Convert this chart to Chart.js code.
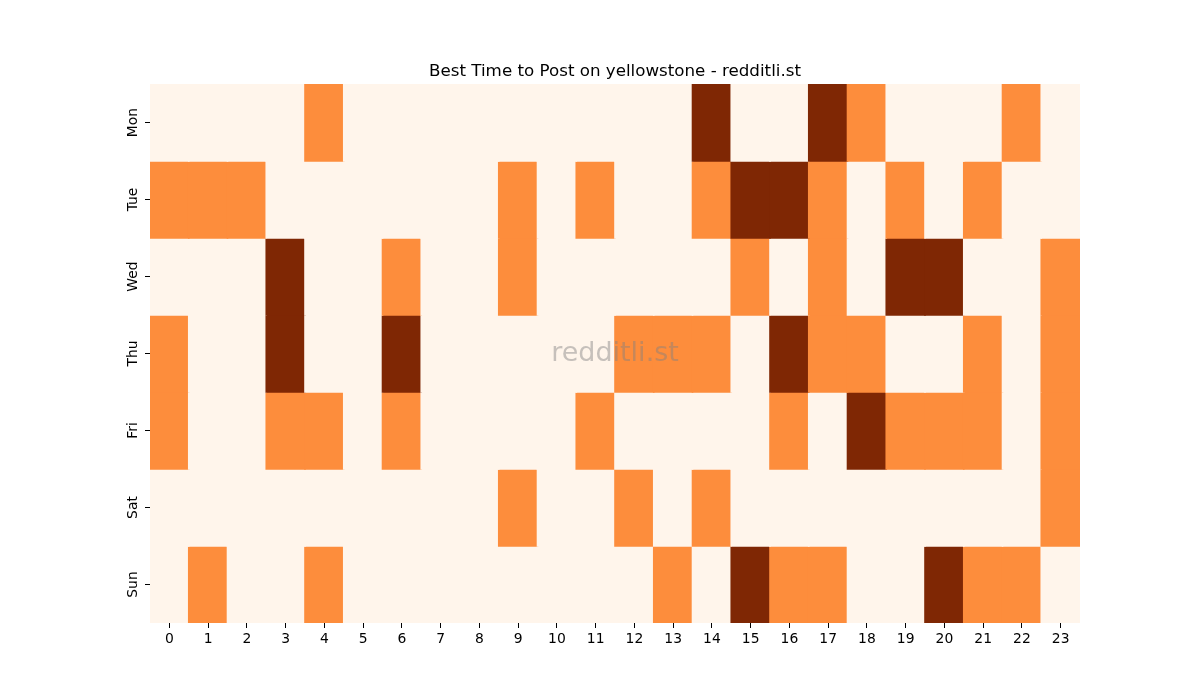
<!DOCTYPE html>
<html>
<head>
<meta charset="utf-8">
<script src="https://cdn.jsdelivr.net/npm/chart.js@4.4.1/dist/chart.umd.min.js"></script>
<style>
  html, body { margin: 0; padding: 0; background: #fff; }
  canvas { display: block; }
</style>
</head>
<body>
<canvas id="heat" width="1200" height="700"></canvas>
<script>
// hours along the x axis, days down the y axis
const hours = ["0","1","2","3","4","5","6","7","8","9","10","11","12","13","14","15","16","17","18","19","20","21","22","23"];
const days = ["Mon", "Tue", "Wed", "Thu", "Fri", "Sat", "Sun"];

// activity level per hour: 0 = low, 1 = mid, 2 = best
const mon = [0,0,0,0,1,0,0,0,0,0,0,0,0,0,2,0,0,2,1,0,0,0,1,0];
const tue = [1,1,1,0,0,0,0,0,0,1,0,1,0,0,1,2,2,1,0,1,0,1,0,0];
const wed = [0,0,0,2,0,0,1,0,0,1,0,0,0,0,0,1,0,1,0,2,2,0,0,1];
const thu = [1,0,0,2,0,0,2,0,0,0,0,0,1,1,1,0,2,1,1,0,0,1,0,1];
const fri = [1,0,0,1,1,0,1,0,0,0,0,1,0,0,0,0,1,0,2,1,1,1,0,1];
const sat = [0,0,0,0,0,0,0,0,0,1,0,0,1,0,1,0,0,0,0,0,0,0,0,1];
const sun = [0,1,0,0,1,0,0,0,0,0,0,0,0,1,0,2,1,1,0,0,2,1,1,0];
const rows = [mon, tue, wed, thu, fri, sat, sun];

const levelColors = ["#fff5eb", "#fd8d3c", "#7f2704"];
const titleText = "Best Time to Post on yellowstone - redditli.st";

// each day is a row of floating bars spanning [r, r+1]
const datasets = rows.map((row, r) => ({
  label: days[r],
  data: row.map(() => [r, r + 1]),
  backgroundColor: row.map(v => levelColors[v]),
  borderWidth: 0,
  inflateAmount: 0.8,
  grouped: false,
  barPercentage: 1,
  categoryPercentage: 1
}));

// title centred over the plot area, rotated day labels, watermark
const decorations = {
  id: "decorations",
  afterDatasetsDraw(chart) {
    const { ctx, chartArea } = chart;
    const cx = (chartArea.left + chartArea.right) / 2;
    ctx.save();
    ctx.font = "27px 'DejaVu Sans'";
    ctx.fillStyle = "rgba(128,128,128,0.45)";
    ctx.textAlign = "center";
    ctx.textBaseline = "middle";
    ctx.fillText("redditli.st", cx, (chartArea.top + chartArea.bottom) / 2);
    ctx.restore();
  },
  afterDraw(chart) {
    const { ctx, chartArea, scales } = chart;
    const cx = (chartArea.left + chartArea.right) / 2;
    ctx.save();
    ctx.fillStyle = "#000";
    ctx.font = "16.7px 'DejaVu Sans'";
    ctx.textAlign = "center";
    ctx.textBaseline = "alphabetic";
    ctx.fillText(titleText, cx, chartArea.top - 8);

    ctx.font = "13.9px 'DejaVu Sans'";
    ctx.textBaseline = "bottom";
    days.forEach((d, i) => {
      const y = scales.y.getPixelForValue(i + 0.5);
      ctx.save();
      ctx.translate(chartArea.left - 12, y);
      ctx.rotate(-Math.PI / 2);
      ctx.fillText(d, 0, 2);
      ctx.restore();
    });
    ctx.restore();
  }
};

const tickFont = { family: "'DejaVu Sans'", size: 13.9 };

new Chart(document.getElementById("heat").getContext("2d"), {
  type: "bar",
  data: { labels: hours, datasets },
  plugins: [decorations],
  options: {
    responsive: false,
    animation: false,
    layout: { padding: { left: 110, right: 120, top: 84, bottom: 37 } },
    plugins: {
      legend: { display: false },
      tooltip: { enabled: false },
      title: { display: false }
    },
    scales: {
      x: {
        type: "category",
        offset: true,
        border: { display: false },
        grid: { display: true, offset: false, drawOnChartArea: false, drawTicks: true, tickLength: 5, color: "#000", lineWidth: 1 },
        ticks: { color: "#000", font: tickFont, padding: 3, maxRotation: 0, autoSkip: false },
        afterFit(s) { s.height = 40; }
      },
      y: {
        type: "linear",
        min: 0,
        max: 7,
        reverse: true,
        border: { display: false },
        grid: { display: true, drawOnChartArea: false, drawTicks: true, tickLength: 5, color: "#000", lineWidth: 1 },
        afterBuildTicks(s) { s.ticks = days.map((d, i) => ({ value: i + 0.5 })); },
        ticks: { display: false },
        afterFit(s) { s.width = 40; }
      }
    }
  }
});
</script>
</body>
</html>
